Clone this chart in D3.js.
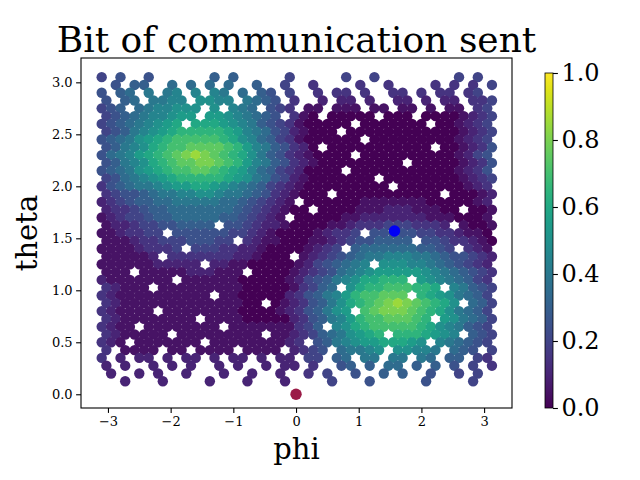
<!DOCTYPE html>
<html>
<head>
<meta charset="utf-8">
<script src="https://cdn.jsdelivr.net/npm/d3@7"></script>
<style>
  body { margin: 0; background: #fff; }
  text { font-family: "DejaVu Serif", serif; }
</style>
</head>
<body>
<svg id="chart" width="640" height="480"></svg>
<script>
// phi positions of the sample columns (even rows / odd rows sit half a step apart)
const phiEven = [-3.1, -2.95, -2.8, -2.65, -2.5, -2.35, -2.2, -2.05, -1.9, -1.75, -1.6, -1.45, -1.3, -1.15,
  -1, -0.85, -0.7, -0.55, -0.4, -0.25, -0.1, 0.05, 0.2, 0.35, 0.5, 0.65, 0.8, 0.95, 1.1, 1.25, 1.4,
  1.55, 1.7, 1.85, 2, 2.15, 2.3, 2.45, 2.6, 2.75, 2.9, 3.05];
const phiOdd = [-3.025, -2.875, -2.725, -2.575, -2.425, -2.275, -2.125, -1.975, -1.825, -1.675, -1.525,
  -1.375, -1.225, -1.075, -0.925, -0.775, -0.625, -0.475, -0.325, -0.175, -0.025, 0.125, 0.275, 0.425,
  0.575, 0.725, 0.875, 1.025, 1.175, 1.325, 1.475, 1.625, 1.775, 1.925, 2.075, 2.225, 2.375, 2.525,
  2.675, 2.825, 2.975, 3.125];
const thetaRows = [3.05, 2.975, 2.9, 2.825, 2.75, 2.675, 2.6, 2.525, 2.45, 2.375, 2.3, 2.225, 2.15, 2.075,
  2, 1.925, 1.85, 1.775, 1.7, 1.625, 1.55, 1.475, 1.4, 1.325, 1.25, 1.175, 1.1, 1.025, 0.95, 0.875,
  0.8, 0.725, 0.65, 0.575, 0.5, 0.425, 0.35, 0.275, 0.2, 0.125];

// bit value, one letter per point: a = 0.00, b = 0.05 ... u = 1.00, '.' = no point
const levelCodes = 'abcdefghijklmnopqrstu';
const bitRows = [
  'e.f..f.... ..g.g..... e.....e..e ........e. e.',
  '.f.gg..h.h .h.h..g..e ..d....d.. d....d.d.d .e',
  'f.gh.i.ij. j.ji.h.gf. e..d.dd.d. .dd.d.dd.d e.',
  'f.gh.iijj. kkjj.ihgf. d..c.cc.c. .cc.c.cc.d de',
  'efg.hijjkk k.k.jih.fe d.bb.bbb.b b.bb.b.bb. de',
  'efghijjkll .llkjihgf. dba.aaaaa. aaa.aaaabc de',
  'efghijklm. mmmlkjigfe dbaaaaa.aa aaaaa.aabc de',
  'efgijklmnn nnnmljihfe cbaaa.aaaa aaaaaaaabc de',
  'fghiklmnoo ooonmkjhge dbaaaaaa.a aaaaaaaabc de',
  'fgijkmnoop ppponljigf dca.aaaaaa aaaaa.aabc df',
  'fhijlmnopq rqponmkigf dcbaaaa.aa aaaaaaaabc ef',
  'fgijkmnopp qqponljigf dcbaaaaaaa aa.aaaaabc df',
  'fghiklmnoo pponmljhge dcaaaa.aaa aaaaaaaabc df',
  'efhijklmnn nnnmlkihfe cbaaaaaaa. aaaaaaaabc de',
  'dfghiijkll mmlkjihged cbaaaaaaaa a.aaaaaaab cd',
  'deffghiijj kkjiihgfdc baaa.aaaaa aaaaaa.aaa bc',
  'cdefgghhii iiihhgfedc b.aaaaaabb bbbbbaaaaa bc',
  'cddefgghhh hhhhgfedcb aa.aaaabbb cccbbbaa.a ab',
  'bcdeefgghh hhhggfedcb .aaaaabbcc cccccbbbaa ab',
  'bccdeeffgg gg.ffedccb aaaabbcddd eeedddc.ba ab',
  'bbcddee.ff ffffeedcba aaabcdde.f ffffeeddcb ba',
  'bbbcddeeef ffee.dcbba aabbcdeffg ggg.ffeddc ba',
  'bbbbcddde. eeeddccbaa aabcde.ghh hhhhggfe.d cb',
  'bbbbbc.ddd ddddccbaaa .bcdefghii jjjiihgffe dc',
  'bbbbbbcccc c.ccbbaaaa abcefghij. kkkjjihgfe dc',
  'bbb.bbbbbc ccbbb.aaaa bcdefhijkl llllkjihgf ed',
  'cbbbbbbb.b bbbbbaaaaa bcefgijkmm nnn.lkjihg ed',
  'dcbbb.bbbb bbbbbaaaaa bdegh.kmnn ooonnm.jig fe',
  'dcbbbbbbbb bb.bbaaaaa cdfgijlnoo ppp.nmlkih ge',
  'dcbbbbbbbb bbbbbaa.ab cdfgikmnop qrqponmk.h ge',
  'dcbbbb.bbb bbbbbaaaab cdfgikl.op qqqponmkih ge',
  'dcbbbbbbbb .bbbbaaaaa cdfgijlnoo pppon.lkih ge',
  'dcbb.bbbbb bbb.bbbbbb bdeg.jkmno oooonmkjig fe',
  'dcbbbbb.bb bbbbbbb.bb cdeghiklmn .nnnmlkj.g fe',
  'dcb.bbbbbb b.bbbbbbbb cd.fgijkll mmmlk.jihg fe',
  'd.bbbb.bb. bbbb.bbbb. cdef.hiijk .kkjji.hgf .e',
  'd.c.cc.c.c c.c.cc.c.c c.ee.gh.ii .ii.ih.gg. ed',
  'c.c..c.c.c ..c.c..c.c c.d..fg.g. hh.g.g.f.e .d',
  '.c..c.c..c ...c..c..c ..d.e..f.. g.g..f..e. e.',
  '..c...c... .c...c...c ....e...f. ....f....e ..'
];

// the two highlighted points
const markerPhi = [0, 1.5708];
const markerTheta = [0, 1.5708];
const markerColor = ['#9b1b47', '#0000f5'];

const xTicks = [-3, -2, -1, 0, 1, 2, 3];
const yTicks = [0, 0.5, 1, 1.5, 2, 2.5, 3];
const cbTicks = [0, 0.2, 0.4, 0.6, 0.8, 1];

const svg = d3.select('#chart');
const frame = { left: 81, right: 512, top: 58, bottom: 408 };
const cbar = { left: 545, width: 8, top: 73, bottom: 408 };

const xScale = d3.scaleLinear().domain([-3.43, 3.445]).range([frame.left, frame.right]);
const yScale = d3.scaleLinear().domain([-0.132, 3.234]).range([frame.bottom, frame.top]);
const colorScale = d3.scaleSequential(d3.interpolateViridis).domain([0, 1]);

// flatten the rows into points
const points = [];
bitRows.forEach((row, i) => {
  const codes = row.replace(/ /g, '');
  const phis = i % 2 ? phiOdd : phiEven;
  for (let j = 0; j < codes.length; j++) {
    if (codes[j] === '.') continue;
    points.push({ phi: phis[j], theta: thetaRows[i], bit: levelCodes.indexOf(codes[j]) / 20 });
  }
});

svg.append('g').attr('class', 'points')
  .selectAll('circle').data(points).enter().append('circle')
    .attr('cx', d => xScale(d.phi))
    .attr('cy', d => yScale(d.theta))
    .attr('r', 5.2)
    .attr('fill', d => colorScale(d.bit));

svg.append('g').attr('class', 'markers')
  .selectAll('circle').data(markerPhi).enter().append('circle')
    .attr('cx', d => xScale(d))
    .attr('cy', (d, i) => yScale(markerTheta[i]))
    .attr('r', 5.7)
    .attr('fill', (d, i) => markerColor[i]);

// frame
svg.append('rect')
  .attr('x', frame.left).attr('y', frame.top)
  .attr('width', frame.right - frame.left).attr('height', frame.bottom - frame.top)
  .attr('fill', 'none').attr('stroke', '#000').attr('stroke-width', 1.1);

const styleAxis = (g, size) => {
  g.select('.domain').remove();
  g.selectAll('.tick line').attr('stroke', '#000').attr('stroke-width', 1.1);
  g.selectAll('.tick text').attr('fill', '#000')
    .style('font-family', '"DejaVu Serif", serif').style('font-size', size + 'px');
};

svg.append('g')
  .attr('transform', `translate(0,${frame.bottom})`)
  .call(d3.axisBottom(xScale).tickValues(xTicks).tickSize(4.9).tickPadding(3.5).tickFormat(d3.format('d')))
  .call(g => styleAxis(g, 13));

svg.append('g')
  .attr('transform', `translate(${frame.left},0)`)
  .call(d3.axisLeft(yScale).tickValues(yTicks).tickSize(4.9).tickPadding(3.5).tickFormat(d3.format('.1f')))
  .call(g => styleAxis(g, 13));

// colorbar
const cbScale = d3.scaleLinear().domain([0, 1]).range([cbar.bottom, cbar.top]);
const grad = svg.append('defs').append('linearGradient')
  .attr('id', 'viridis').attr('x1', 0).attr('y1', 1).attr('x2', 0).attr('y2', 0);
grad.selectAll('stop').data(d3.range(0, 1.0001, 0.05)).enter().append('stop')
  .attr('offset', d => d)
  .attr('stop-color', d => colorScale(d));

svg.append('rect')
  .attr('x', cbar.left).attr('y', cbar.top)
  .attr('width', cbar.width).attr('height', cbar.bottom - cbar.top)
  .attr('fill', 'url(#viridis)')
  .attr('stroke', '#000').attr('stroke-width', 0.8);

svg.append('g')
  .attr('transform', `translate(${cbar.left + cbar.width},0)`)
  .call(d3.axisRight(cbScale).tickValues(cbTicks).tickSize(4.9).tickPadding(3.5).tickFormat(d3.format('.1f')))
  .call(g => styleAxis(g, 24));

// labels
svg.append('text')
  .attr('x', (frame.left + frame.right) / 2).attr('y', 52)
  .attr('text-anchor', 'middle')
  .style('font-size', '36px')
  .text('Bit of communication sent');

svg.append('text')
  .attr('x', (frame.left + frame.right) / 2).attr('y', 459)
  .attr('text-anchor', 'middle')
  .style('font-size', '29px')
  .text('phi');

svg.append('text')
  .attr('transform', `translate(37,${(frame.top + frame.bottom) / 2}) rotate(-90)`)
  .attr('text-anchor', 'middle')
  .style('font-size', '29px')
  .text('theta');
</script>
</body>
</html>
